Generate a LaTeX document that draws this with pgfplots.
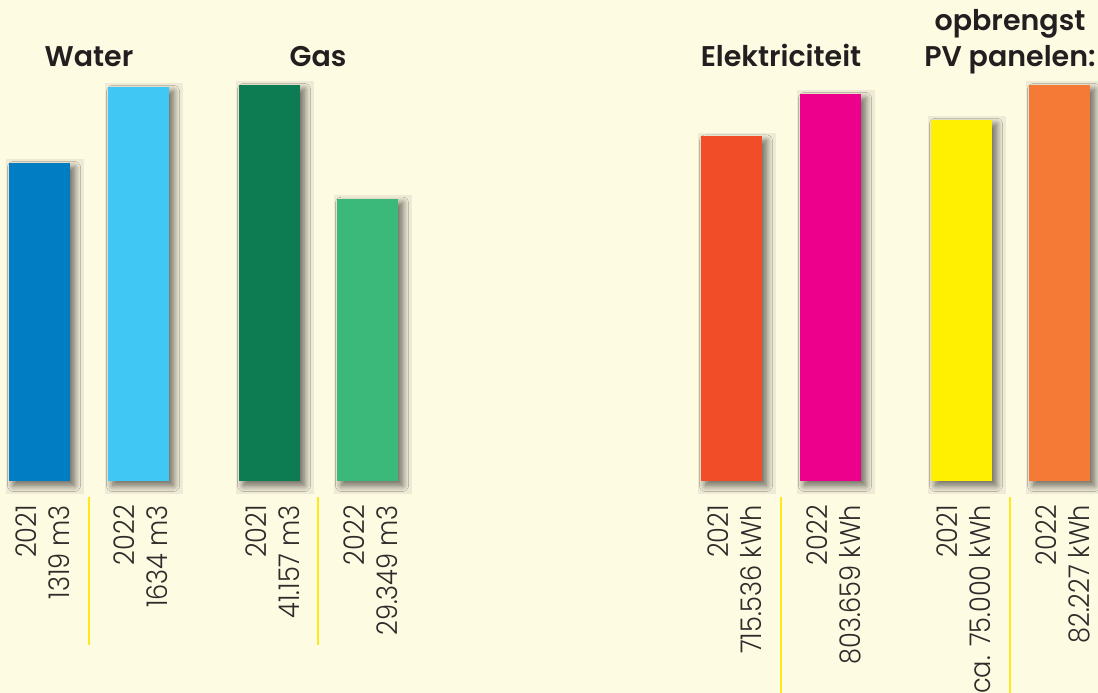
\documentclass[border=0pt]{standalone}
\usepackage{pgfplots}
\pgfplotsset{compat=1.18}
\usepackage{fontspec}
\setmainfont{Poppins}
\newfontfamily\lblfont[FakeStretch=0.9]{Poppins Light}
\newfontfamily\ttlfont{Poppins SemiBold}
\usetikzlibrary{shadows.blur}
\definecolor{bg}{HTML}{FEFBE3}
\definecolor{panel}{HTML}{EEEAD5}
\definecolor{ttl}{HTML}{231F20}
\definecolor{lbl}{HTML}{2E2C2A}
\definecolor{sep}{HTML}{FFE817}
\definecolor{cwa}{HTML}{007DC3}
\definecolor{cwb}{HTML}{41C7F4}
\definecolor{cga}{HTML}{0D7C52}
\definecolor{cgb}{HTML}{3BB97A}
\definecolor{cea}{HTML}{F24D29}
\definecolor{ceb}{HTML}{EC008C}
\definecolor{cpa}{HTML}{FFEF00}
\definecolor{cpb}{HTML}{F47A35}
\tikzset{
  panelbar/.style={
    preaction={fill=panel, draw=panel, line width=7pt},
    preaction={fill=panel, draw=panel, line width=7pt, transform canvas={shift={(10pt,0pt)}}},
    preaction={fill=panel, draw=panel, line width=7pt, transform canvas={shift={(0pt,-10pt)}}},
    preaction={fill=panel, draw=panel, line width=7pt, transform canvas={shift={(10pt,-10pt)}}},
    blur shadow={shadow xshift=4.5pt, shadow yshift=-4.5pt, shadow blur radius=6pt, shadow blur steps=14, shadow opacity=55},
    fill=#1, draw=none
  }
}
\pgfplotsset{
  grp/.style={
    at={(0pt,212pt)}, anchor=south west, scale only axis,
    width=1098pt, height=396pt,
    xmin=0, xmax=1098, ymin=0, clip=false,
    axis line style={draw=none}, ytick=\empty, major tick length=0pt,
    ybar, bar width=61, bar shift=0pt,
    xticklabel style={font={\lblfont\fontsize{28.5}{33}\selectfont}, text=lbl,
      rotate=90, anchor=east, inner sep=0pt, align=right},
    xticklabel shift=24pt,
  }
}
\begin{document}
\begin{tikzpicture}[x=1pt,y=1pt]
\fill[bg] (0,0) rectangle (1098,693);
% Water
\begin{axis}[grp, ymax=1642.3, xtick={43,141},
  xticklabels={{2021\\1319 m3},{2022\\1634 m3}}]
\addplot[panelbar=cwa] coordinates {(39.5,1319)};
\addplot[panelbar=cwb] coordinates {(138.5,1634)};
\end{axis}
% Gas
\begin{axis}[grp, ymax=41157, xtick={272.5,370.5},
  xticklabels={{2021\\41.157 m3},{2022\\29.349 m3}}]
\addplot[panelbar=cga] coordinates {(269.5,41157)};
\addplot[panelbar=cgb] coordinates {(367.5,29349)};
\end{axis}
% Elektriciteit
\begin{axis}[grp, ymax=822349, xtick={735,834},
  xticklabels={{2021\\715.536 kWh},{2022\\803.659 kWh}}]
\addplot[panelbar=cea] coordinates {(731.5,715536)};
\addplot[panelbar=ceb] coordinates {(830.5,803659)};
\end{axis}
% PV
\begin{axis}[grp, ymax=82227, xtick={964,1063},
  xticklabels={{2021\\ca. 75.000 kWh},{2022\\82.227 kWh}}]
\addplot[panelbar=cpa] coordinates {(961.5,75000)};
\addplot[panelbar=cpb] coordinates {(1059.5,82227)};
\end{axis}
% separators
\draw[sep, line width=2pt] (89,196) -- (89,48);
\draw[sep, line width=2pt] (318,196) -- (318,48);
\draw[sep, line width=2pt] (781,196) -- (781,0);
\draw[sep, line width=2pt] (1010,196) -- (1010,0);
% titles
\begin{scope}[every node/.style={anchor=base, text=ttl, font={\ttlfont\fontsize{28.5}{34}\selectfont}, inner sep=0pt}]
\node at (89,626) {Water};
\node at (318,626) {Gas};
\node at (781,626) {Elektriciteit};
\node at (1010,662) {opbrengst};
\node at (1010,626) {PV panelen:};
\end{scope}
\pgfresetboundingbox
\useasboundingbox (0,0) rectangle (1098,693);
\end{tikzpicture}
\end{document}
